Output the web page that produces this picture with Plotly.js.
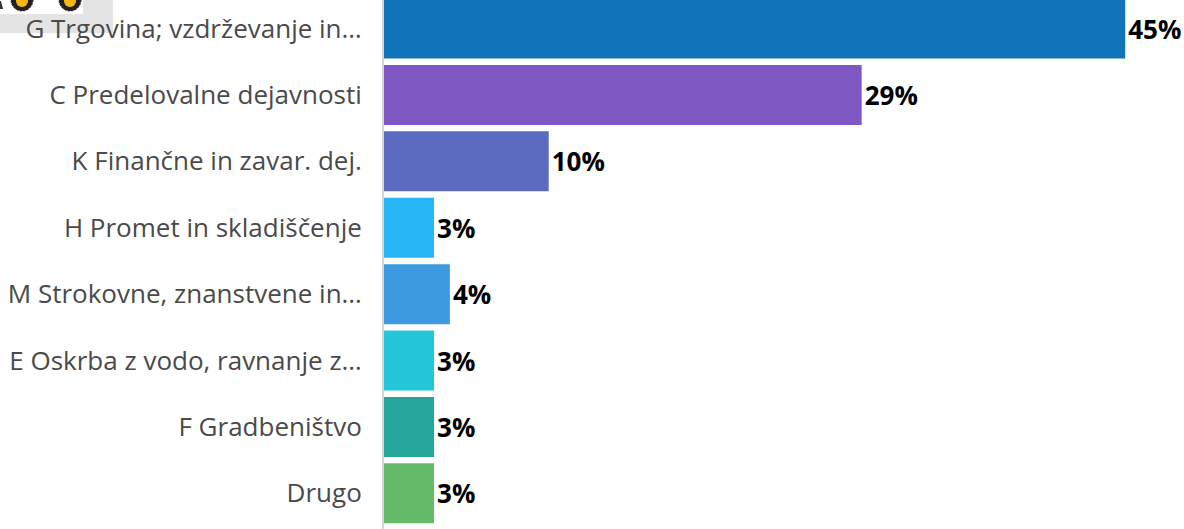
<!DOCTYPE html>
<html><head><meta charset="utf-8">
<script src="https://cdn.plot.ly/plotly-3.0.1.min.js"></script>
<style>html,body{margin:0;padding:0;background:#fff;overflow:hidden}#c{width:1184px;height:529px}</style>
</head><body><div id="c"></div>
<script>
const categories = ["G Trgovina; vzdrževanje in…","C Predelovalne dejavnosti","K Finančne in zavar. dej.","H Promet in skladiščenje","M Strokovne, znanstvene in…","E Oskrba z vodo, ravnanje z…","F Gradbeništvo","Drugo"];
const values = [45,29,10,3.04,4,3.04,3.04,3.04];
const colors = ["#1174bb","#7e57c2","#5c6bc0","#29b6f6","#3d9ae0","#26c6da","#26a69a","#66bb6a"];
const valueLabels = ["45%","29%","10%","3%","4%","3%","3%","3%"];

const logo = 'data:image/svg+xml;utf8,' + encodeURIComponent(
 '<svg xmlns="http://www.w3.org/2000/svg" width="113" height="33"><rect width="113" height="33" fill="#e4e4e4"/><rect width="83" height="14" fill="#fff"/>'+
 '<path d="M0 9 L3 9 L1 1 L0 1 Z" fill="#333"/>'+
 '<circle cx="22" cy="0" r="11" fill="#222" stroke="#222" stroke-width="1" stroke-dasharray="2 1.5"/><circle cx="22" cy="1" r="6" fill="#fbb80f"/>'+
 '<circle cx="70" cy="0" r="11" fill="#222" stroke="#222" stroke-width="1" stroke-dasharray="2 1.5"/><circle cx="70" cy="1" r="6" fill="#fbb80f"/></svg>');

Plotly.newPlot('c',[{
  type:'bar',orientation:'h',y:categories,x:values,
  marker:{color:colors,line:{width:0}},
  text:valueLabels,textposition:'outside',cliponaxis:false,
  textfont:{family:'"Open Sans"',size:26,color:'#000',weight:700},
  hoverinfo:'skip'
}],{
  width:1184,height:529,
  margin:{l:384,r:0,t:0,b:0},
  paper_bgcolor:'#fff',plot_bgcolor:'#fff',
  showlegend:false,bargap:0.096,
  xaxis:{range:[0,48.57],visible:false,fixedrange:true},
  yaxis:{type:'category',categoryorder:'array',categoryarray:categories,
    range:[7.537,-0.43],showgrid:false,zeroline:false,
    showline:false,ticks:'outside',ticklen:16,tickcolor:'rgba(0,0,0,0)',
    tickfont:{family:'"Open Sans"',size:26,color:'#4a4a4a'},fixedrange:true},
  shapes:[{type:'line',xref:'paper',yref:'paper',x0:-1/800,x1:-1/800,y0:0,y1:1,
     line:{color:'#d6d6d6',width:2},layer:'above'}],
  images:[{source:logo,xref:'paper',yref:'paper',x:-384/800,y:1,sizex:113/800,sizey:33/529,xanchor:'left',yanchor:'top',sizing:'stretch',layer:'below'}]
},{displayModeBar:false,staticPlot:true});
</script></body></html>
